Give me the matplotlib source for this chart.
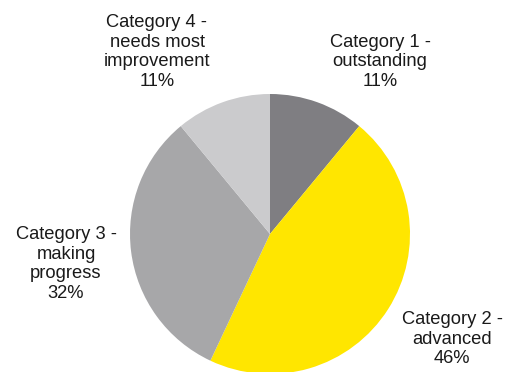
import matplotlib.pyplot as plt

categories = [
    "Category 1 -\noutstanding",
    "Category 2 -\nadvanced",
    "Category 3 -\nmaking\nprogress",
    "Category 4 -\nneeds most\nimprovement",
]
shares = [11, 46, 32, 11]
colors = ["#7f7e82", "#ffe600", "#a7a7a9", "#cbcbcd"]

# label centres in pixels (x, y from top) of the 505x372 canvas
label_px = [(380, 62), (452, 339), (66, 264), (157, 52)]

W, H = 505, 372
fig = plt.figure(figsize=(W / 100, H / 100), dpi=100)
cx, cy, r = 270, 234, 140
ax = fig.add_axes([(cx - r) / W, (H - cy - r) / H, 2 * r / W, 2 * r / H])
ax.pie(shares, colors=colors, startangle=90, counterclock=False, radius=1,
       wedgeprops=dict(linewidth=0))
ax.set_xlim(-1, 1)
ax.set_ylim(-1, 1)
ax.set_aspect("equal")
ax.axis("off")

for name, val, (px, py) in zip(categories, shares, label_px):
    fig.text(px / W, 1 - py / H, f"{name}\n{val}%", ha="center", va="center",
             fontsize=13.2, family="Liberation Sans", color="#1a1a1a",
             linespacing=1.22)

fig.savefig("out.png", dpi=100)
